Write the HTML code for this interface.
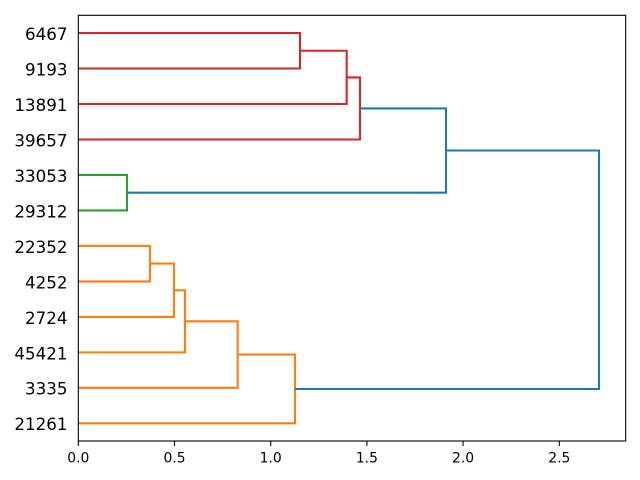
<!DOCTYPE html>
<html>
<head>
<meta charset="utf-8">
<style>
  html, body { margin: 0; padding: 0; background: #ffffff; }
  svg { display: block; }
  text { font-family: "DejaVu Sans", "Liberation Sans", sans-serif; fill: #000; }
</style>
</head>
<body>
<svg width="640" height="480" viewBox="0 0 640 480" xmlns="http://www.w3.org/2000/svg">
  <rect x="0" y="0" width="640" height="480" fill="#ffffff"/>

  <g fill="none" stroke-width="2.1" stroke-linejoin="miter" stroke-linecap="butt">
    <g stroke="#d62728">
      <path d="M78.3,33.0 H300 V68.5 H78.3"/>
      <path d="M300,50.75 H346.7 V104.0 H78.3"/>
      <path d="M346.7,77.4 H360 V139.5 H78.3"/>
    </g>
    <g stroke="#2ca02c">
      <path d="M78.3,174.9 H127 V210.4 H78.3"/>
    </g>
    <g stroke="#ff7f0e">
      <path d="M78.3,245.9 H150 V281.4 H78.3"/>
      <path d="M150,263.6 H174 V316.9 H78.3"/>
      <path d="M174,290.3 H185 V352.4 H78.3"/>
      <path d="M185,321.3 H237.7 V387.8 H78.3"/>
      <path d="M237.7,354.6 H295 V423.3 H78.3"/>
    </g>
    <g stroke="#1f77b4">
      <path d="M360,108.4 H446 V192.7 H127"/>
      <path d="M446,150.5 H599 V389 H295"/>
    </g>
  </g>

  <rect x="78.3" y="15.3" width="547.4" height="425.7" fill="none" stroke="#000" stroke-width="1.1"/>

  <g stroke="#000" stroke-width="1.1">
    <line x1="78.3" y1="441" x2="78.3" y2="445.9"/>
    <line x1="174.5" y1="441" x2="174.5" y2="445.9"/>
    <line x1="270.7" y1="441" x2="270.7" y2="445.9"/>
    <line x1="366.9" y1="441" x2="366.9" y2="445.9"/>
    <line x1="463.1" y1="441" x2="463.1" y2="445.9"/>
    <line x1="559.3" y1="441" x2="559.3" y2="445.9"/>
  </g>
  <g font-size="13.9" text-anchor="middle">
    <text x="78.3" y="462.3">0.0</text>
    <text x="174.5" y="462.3">0.5</text>
    <text x="270.7" y="462.3">1.0</text>
    <text x="366.9" y="462.3">1.5</text>
    <text x="463.1" y="462.3">2.0</text>
    <text x="559.3" y="462.3">2.5</text>
  </g>

  <g font-size="16.7" text-anchor="end">
    <text x="67.5" y="39.9">6467</text>
    <text x="67.5" y="75.4">9193</text>
    <text x="67.5" y="110.9">13891</text>
    <text x="67.5" y="146.4">39657</text>
    <text x="67.5" y="181.8">33053</text>
    <text x="67.5" y="217.3">29312</text>
    <text x="67.5" y="252.8">22352</text>
    <text x="67.5" y="288.3">4252</text>
    <text x="67.5" y="323.8">2724</text>
    <text x="67.5" y="359.3">45421</text>
    <text x="67.5" y="394.7">3335</text>
    <text x="67.5" y="430.2">21261</text>
  </g>
</svg>
</body>
</html>
